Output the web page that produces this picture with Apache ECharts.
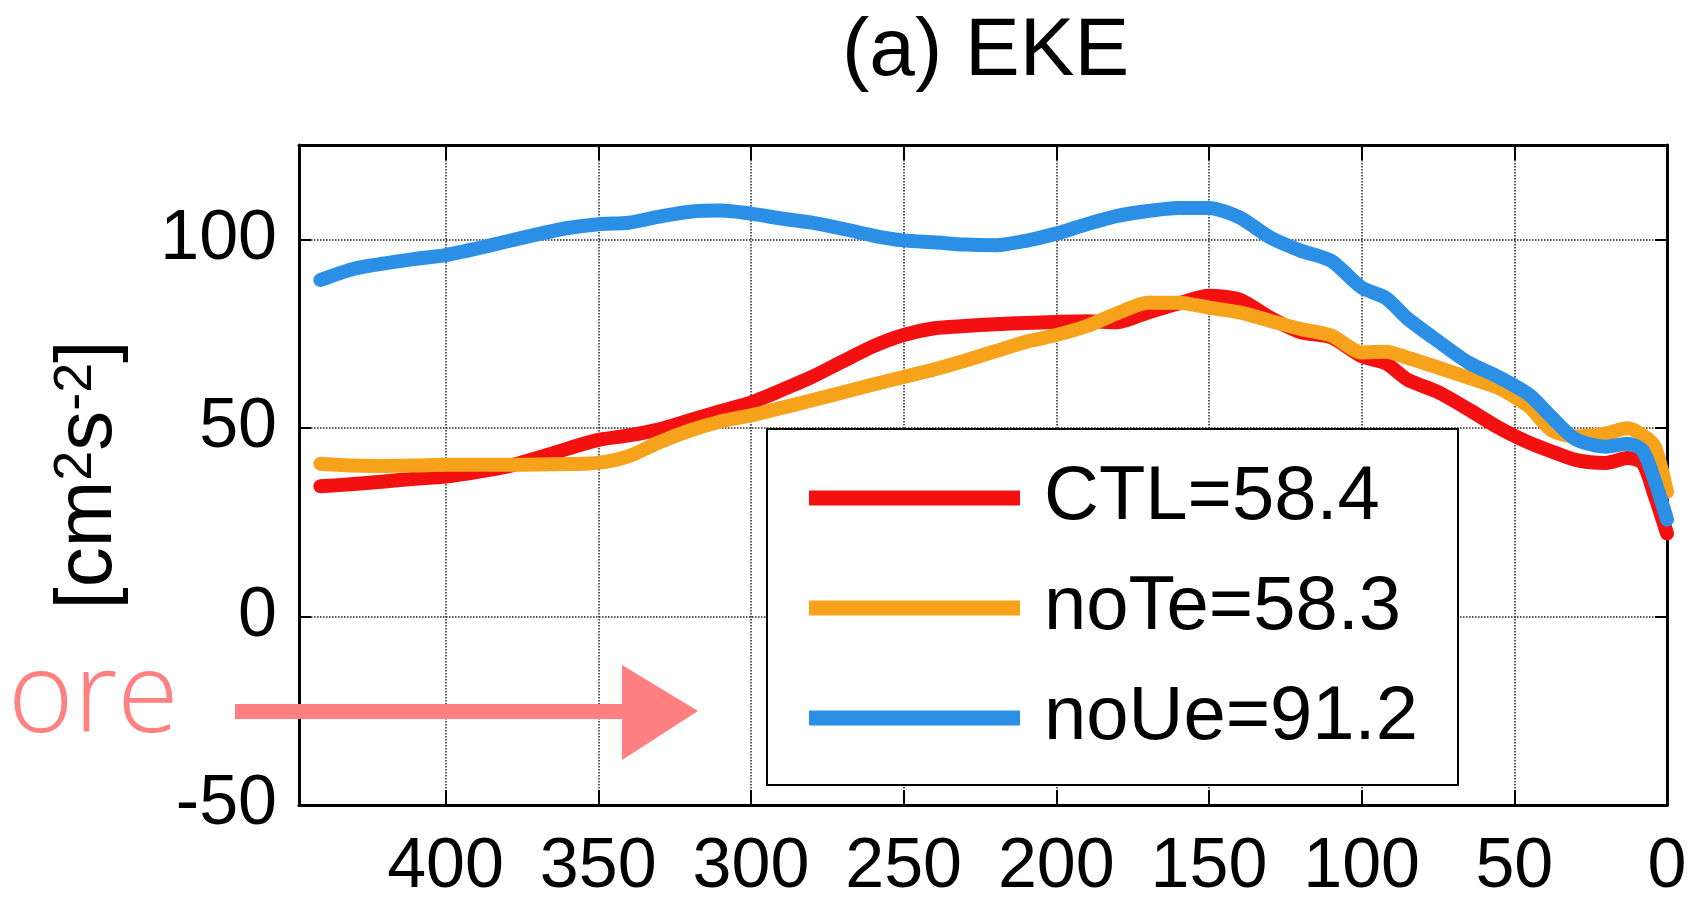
<!DOCTYPE html>
<html>
<head>
<meta charset="utf-8">
<title>(a) EKE</title>
<script src="https://cdn.jsdelivr.net/npm/echarts@6/dist/echarts.min.js"></script>
<style>
  html, body { margin: 0; padding: 0; background: #fff; }
  #chart { width: 1691px; height: 908px; }
</style>
</head>
<body>
<div id="chart"></div>
<script>
// distance (x) and EKE values
var distance = [441, 430, 420, 410, 400, 390, 380, 370, 360, 350, 340, 330, 320, 310, 300,
                290, 280, 270, 260, 250, 240, 230, 220, 210, 200, 190, 180, 170, 160, 150,
                140, 130, 120, 110, 100, 92, 85, 75, 65, 55, 45, 38, 30, 20, 13, 8, 4, 0];

var ctl = [34.5, 35.1, 35.8, 36.5, 37.1, 38.3, 39.7, 42.0, 44.5, 46.8, 48.0, 49.6, 52.0, 54.4, 56.7,
           60.0, 63.5, 67.6, 71.6, 74.6, 76.4, 77.0, 77.5, 77.8, 78.1, 78.3, 78.0, 80.6, 83.0, 85.0,
           84.0, 79.2, 75.4, 74.0, 69.0, 67.1, 62.8, 59.5, 54.9, 50.0, 46.0, 43.8, 41.5, 40.7, 42.0, 40.7, 32.0, 22.0];

var noTe = [40.5, 40.0, 39.9, 40.0, 40.2, 40.2, 40.2, 40.3, 40.4, 40.7, 42.5, 46.2, 49.3, 51.7, 53.3,
            55.3, 57.3, 59.4, 61.5, 63.5, 65.5, 67.8, 70.3, 72.8, 74.6, 77.0, 80.4, 83.2, 83.2, 81.9,
            80.6, 78.4, 76.2, 74.5, 70.0, 70.2, 68.6, 66.0, 63.3, 60.5, 55.5, 49.5, 47.7, 48.5, 49.9, 48.1, 45.0, 33.0];

var noUe = [89.2, 92.2, 93.6, 94.8, 95.8, 97.5, 99.4, 101.3, 103.0, 104.0, 104.4, 106.0, 107.3, 107.6, 106.8,
            105.5, 104.4, 102.8, 101.0, 99.7, 99.2, 98.6, 98.4, 99.6, 101.5, 104.0, 106.2, 107.5, 108.3, 108.3,
            105.8, 100.5, 97.0, 94.3, 87.2, 84.4, 79.0, 73.0, 67.3, 63.4, 58.7, 53.0, 47.0, 45.0, 45.8, 44.0, 36.0, 25.7];

var seriesNames = ['CTL=58.4', 'noTe=58.3', 'noUe=91.2'];
var seriesColors = ['#f21010', '#f7a21b', '#2b8fe6'];

var FONT = '"Liberation Sans", Arial, Helvetica, sans-serif';

function pairs(vals) {
  return distance.map(function (d, i) { return [d, vals[i]]; });
}

function every50(v) {
  return v % 50 === 0 ? String(v) : '';
}

var myChart = echarts.init(document.getElementById('chart'));

var xBase = {
  type: 'value',
  min: 0,
  max: 448,
  interval: 50,
  inverse: true,
  axisLine: { show: true, onZero: false, lineStyle: { color: '#000', width: 3 } },
  axisTick: { show: true, inside: true, length: 15, lineStyle: { color: '#000', width: 2 } }
};

var yBase = {
  type: 'value',
  min: -50,
  max: 125,
  interval: 50,
  axisLine: { show: true, onZero: false, lineStyle: { color: '#000', width: 3 } },
  axisTick: { show: true, inside: true, length: 12, lineStyle: { color: '#000', width: 2 } }
};

var option = {
  backgroundColor: '#fff',
  animation: false,
  title: {
    text: '(a) EKE',
    left: 837,
    top: 6,
    textStyle: { fontFamily: FONT, fontSize: 82, fontWeight: 'normal', color: '#000' }
  },
  grid: { left: 299, right: 24, top: 145, bottom: 103 },
  legend: {
    orient: 'vertical',
    left: 767,
    top: 429,
    padding: [29, 40, 27, 42],
    itemGap: 30,
    itemWidth: 211,
    itemHeight: 15,
    icon: 'rect',
    backgroundColor: '#fff',
    borderColor: '#000',
    borderWidth: 2,
    textStyle: { fontFamily: FONT, fontSize: 76, color: '#000', lineHeight: 80, padding: [0, 0, 0, 19] },
    data: seriesNames
  },
  xAxis: [
    Object.assign({}, xBase, {
      position: 'bottom',
      axisLabel: { formatter: every50, fontFamily: FONT, fontSize: 70, color: '#000', margin: 28 },
      splitLine: { show: true, lineStyle: { color: '#222', type: 'dotted', width: 1.5 } }
    }),
    Object.assign({}, xBase, {
      position: 'top',
      axisLabel: { show: false },
      splitLine: { show: false }
    })
  ],
  yAxis: [
    Object.assign({}, yBase, {
      position: 'left',
      name: '{m|[cm}{s|2}{m|s}{s|-2}{m|]}',
      nameLocation: 'middle',
      nameRotate: 90,
      nameGap: 170,
      nameTextStyle: {
        rich: {
          m: { fontFamily: FONT, fontSize: 80, color: '#000', verticalAlign: 'bottom', lineHeight: 80 },
          s: { fontFamily: FONT, fontSize: 54, color: '#000', verticalAlign: 'top', lineHeight: 80 }
        }
      },
      axisLabel: { formatter: every50, fontFamily: FONT, fontSize: 70, color: '#000', margin: 22 },
      splitLine: { show: true, lineStyle: { color: '#222', type: 'dotted', width: 1.5 } }
    }),
    Object.assign({}, yBase, {
      position: 'right',
      axisLabel: { show: false },
      splitLine: { show: false }
    })
  ],
  series: [ctl, noTe, noUe].map(function (vals, i) {
    return {
      name: seriesNames[i],
      type: 'line',
      xAxisIndex: 0,
      yAxisIndex: 0,
      data: pairs(vals),
      smooth: 0.25,
      showSymbol: false,
      symbol: 'none',
      color: seriesColors[i],
      lineStyle: { color: seriesColors[i], width: 14, cap: 'round', join: 'round' },
      itemStyle: { color: seriesColors[i] },
      z: 3 + i
    };
  }),
  graphic: [
    {
      type: 'text',
      left: 8,
      top: 644,
      z: 100,
      style: {
        text: 'ore',
        fill: '#ff8080',
        font: '300 112px "Open Sans", "Liberation Sans", sans-serif'
      }
    },
    {
      type: 'rect',
      z: 100,
      shape: { x: 235, y: 704, width: 395, height: 15 },
      style: { fill: '#ff8080' }
    },
    {
      type: 'polygon',
      z: 100,
      shape: { points: [[622, 665], [698, 711], [622, 760]] },
      style: { fill: '#ff8080' }
    }
  ]
};

myChart.setOption(option);
</script>
</body>
</html>
